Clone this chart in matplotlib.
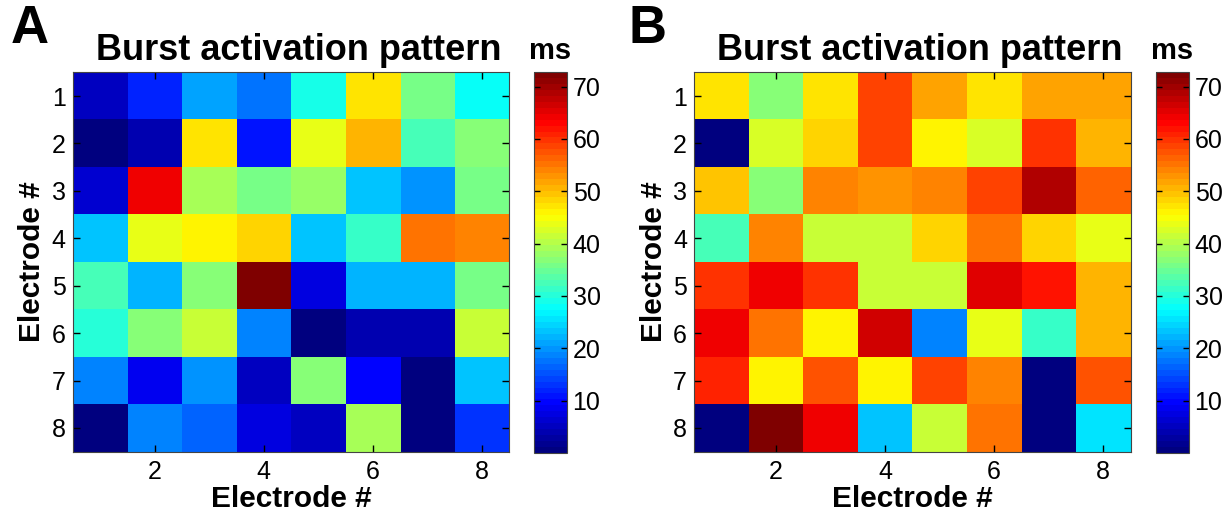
import matplotlib
matplotlib.use("Agg")
import matplotlib.pyplot as plt
from matplotlib.colors import LinearSegmentedColormap
import numpy as np

plt.rcParams["font.family"] = ["Liberation Sans", "DejaVu Sans"]

electrodes = [1, 2, 3, 4, 5, 6, 7, 8]

# burst activation delay (ms), rows = electrode row 1..8, cols = electrode col 1..8
delay_a = [
    [5.5, 11.8, 20.9, 17.3, 29.1, 46.8, 35.5, 27.3],
    [0, 3.6, 47.3, 10.9, 43.7, 50.4, 32.8, 36.4],
    [6.4, 63.7, 38.8, 35.5, 38.2, 22.8, 20.4, 35.5],
    [23.7, 43.7, 45.5, 48.2, 23.3, 30.9, 54.6, 53.7],
    [32.8, 21.8, 37.3, 72.8, 7.3, 21.8, 21.8, 35.5],
    [30, 36.4, 41, 19.1, 0, 3.6, 3.6, 41],
    [18.2, 8.5, 20, 5.5, 36.4, 9.1, 1, 22.8],
    [0, 19.1, 16.6, 7.3, 5.5, 39.7, 0, 13],
]
delay_b = [
    [47.3, 36.4, 47.3, 58.2, 51.5, 47.3, 51.5, 51.5],
    [0, 42.8, 48.2, 58.8, 45.5, 43.1, 60, 50.6],
    [49.1, 36.4, 53.7, 52.4, 53.7, 58.8, 68.3, 56.4],
    [31.9, 53.7, 41.9, 41.9, 47.9, 55.5, 48.2, 44.2],
    [60, 63.7, 60, 41.9, 41.9, 65, 62.4, 50.6],
    [63.7, 54.6, 45.5, 66, 18.2, 44.2, 30.9, 50.6],
    [61, 45.5, 57.3, 46, 58.2, 53.7, 0, 57.3],
    [0, 72.8, 63.7, 23.7, 41.9, 54.6, 0, 26],
]
vmin, vmax = 0, 72.8
cbar_ticks = [10, 20, 30, 40, 50, 60, 70]
xticks = [2, 4, 6, 8]

# MATLAB-style jet, 64 levels
jet_ml = LinearSegmentedColormap("jet_ml", {
    "red": [(0, 0, 0), (3 / 8, 0, 0), (5 / 8, 1, 1), (7 / 8, 1, 1), (1, 0.5, 0.5)],
    "green": [(0, 0, 0), (1 / 8, 0, 0), (3 / 8, 1, 1), (5 / 8, 1, 1), (7 / 8, 0, 0), (1, 0, 0)],
    "blue": [(0, 0.5, 0.5), (1 / 8, 1, 1), (3 / 8, 1, 1), (5 / 8, 0, 0), (1, 0, 0)],
}, N=64)

W, H = 1222, 511
fig = plt.figure(figsize=(W / 100, H / 100), dpi=100)

panels = [
    ("A", delay_a, 72.7, 534, 11),
    ("B", delay_b, 694, 1156, 628),
]

for letter, data, ax_left, cb_left, letter_x in panels:
    ax = fig.add_axes([ax_left / W, (H - 451.7) / H, 436.5 / W, 379.4 / H])
    im = ax.imshow(np.array(data), cmap=jet_ml, vmin=vmin, vmax=vmax,
                   aspect="auto", interpolation="nearest",
                   extent=[0.5, 8.5, 8.5, 0.5])
    ax.set_xticks(xticks)
    ax.set_yticks(electrodes)
    ax.tick_params(direction="in", top=True, right=True, labelsize=18,
                   length=5, width=1, colors="black")
    ax.tick_params(axis="x", pad=6)
    ax.tick_params(axis="y", pad=5)
    for s in ax.spines.values():
        s.set_color("#444444")
    ax.set_xlabel("Electrode #", fontsize=21.5, fontweight="bold", labelpad=1)
    ax.set_ylabel("Electrode #", fontsize=21.5, fontweight="bold", labelpad=4)
    ax.set_title("Burst activation pattern", fontsize=26, fontweight="bold",
                 pad=9, x=0.518)

    cax = fig.add_axes([cb_left / W, (H - 453) / H, 33 / W, 381 / H])
    cb = fig.colorbar(im, cax=cax, ticks=cbar_ticks)
    cb.outline.set_edgecolor("#444444")
    cax.tick_params(direction="in", left=True, right=True, labelsize=18,
                    length=4, width=1, pad=4)
    cax.text(0.5, 1.034, "ms", transform=cax.transAxes, ha="center",
             va="baseline", fontsize=21, fontweight="bold")

    fig.text(letter_x / W, 1 - 4 / H, letter, fontsize=38,
             fontweight="bold", va="top", ha="left")

fig.savefig("out.png", dpi=100)
